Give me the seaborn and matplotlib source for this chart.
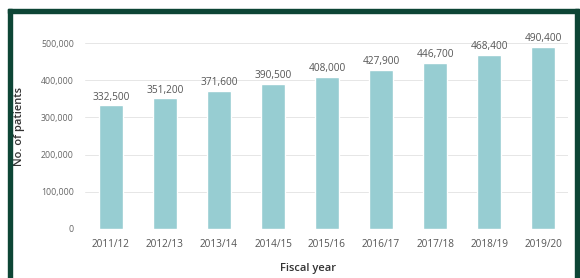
import pandas as pd
import matplotlib
matplotlib.use("Agg")
import matplotlib.pyplot as plt
import seaborn as sns
from matplotlib.patches import Rectangle

# Data
years = ["2011/12", "2012/13", "2013/14", "2014/15", "2015/16",
         "2016/17", "2017/18", "2018/19", "2019/20"]
patients = [332500, 351200, 371600, 390500, 408000,
            427900, 446700, 468400, 490400]
y_ticks = [0, 100000, 200000, 300000, 400000, 500000]

df = pd.DataFrame({"Fiscal_year": years, "Patients": patients})

sns.set_style("white")
plt.rcParams["font.family"] = ["Open Sans", "DejaVu Sans"]

W, H = 580, 278
fig = plt.figure(figsize=(W / 100, H / 100), dpi=100)
ax = fig.add_axes([85 / W, 1 - 229 / H, (568 - 85) / W, (229 - 43) / H])

sns.barplot(data=df, x="Fiscal_year", y="Patients", color="#97cdd2",
            width=0.44, saturation=1, ax=ax, zorder=3)

ax.set_ylim(0, 500000)
ax.set_xlim(-0.48, len(years) - 1 + 0.46)
ax.set_yticks(y_ticks)
ax.set_yticklabels([f"{v:,}" for v in y_ticks], fontsize=6.3, color="#666666")
ax.tick_params(axis="x", labelsize=7.2, colors="#555555", length=0, pad=7)
ax.tick_params(axis="y", length=0, pad=8)
ax.grid(axis="y", color="#e6e6e6", linewidth=0.7, zorder=0)
for s in ax.spines.values():
    s.set_visible(False)

ax.bar_label(ax.containers[0], labels=[f"{v:,}" for v in patients],
             fontsize=7.3, color="#555555", padding=2)

ax.set_xlabel("")
ax.set_ylabel("")
fig.text(308 / W, 1 - 269 / H, "Fiscal year", fontsize=8, color="#333333",
         weight="semibold", ha="center", va="center")
fig.text(20 / W, 1 - 126 / H, "No. of patients", rotation=90, fontsize=8,
         color="#333333", weight="semibold", ha="center", va="center")

# frame around the chart (top, left, right)
green = "#0d4535"
def band(x0, y0, x1, y1):
    fig.patches.append(Rectangle((x0 / W, 1 - y1 / H), (x1 - x0) / W, (y1 - y0) / H,
                                 transform=fig.transFigure, color=green, zorder=10))
band(8, 9, 579, 13)
band(8, 9, 12, 278)
band(575, 9, 579, 278)

fig.savefig("out.png", dpi=100)
